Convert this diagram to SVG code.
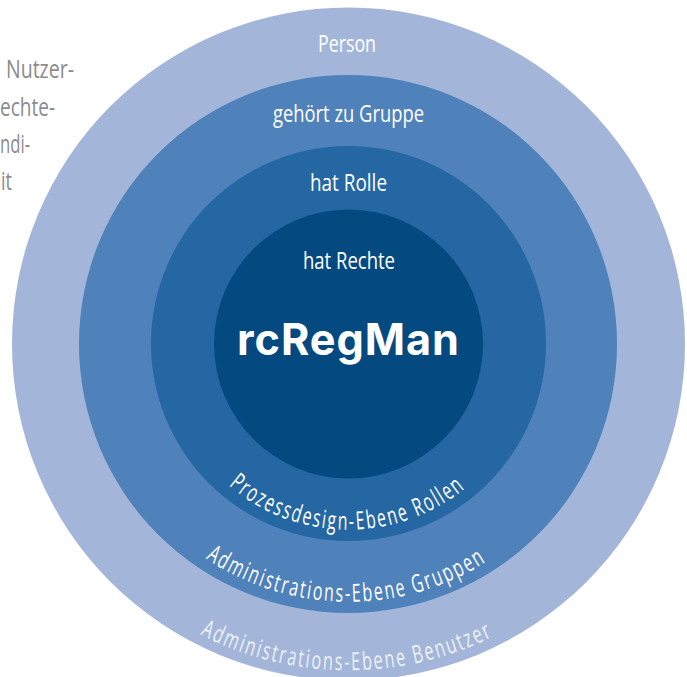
<svg xmlns="http://www.w3.org/2000/svg" width="687" height="677" viewBox="0 0 687 677">
<style>
text{font-family:"Open Sans","Noto Sans",sans-serif;font-size:24px;fill:#fff}
.c{text-anchor:middle}
.l{letter-spacing:3px;font-size:25px}
.g{fill:#8c8c8c;text-anchor:end;font-size:25px}
.k{font-family:Inter,"DejaVu Sans",sans-serif;font-weight:700;font-size:44px;text-anchor:middle;letter-spacing:1px}
</style>
<defs>
<path id="a1" d="M228.500 485.500A185 185 0 0 0 468.500 485.500"/>
<path id="a2" d="M205.500 558.500A258 258 0 0 0 491.500 558.500"/>
<path id="a3" d="M200 634.500A326 326 0 0 0 497 634.500"/>
</defs>
<g id="note"><text class="g" x="74" y="78" textLength="68" lengthAdjust="spacingAndGlyphs">Nutzer-</text><text class="g" x="55" y="116" textLength="55" lengthAdjust="spacingAndGlyphs">echte-</text><text class="g" x="30" y="153" textLength="30" lengthAdjust="spacingAndGlyphs">ndi-</text><text class="g" x="12" y="190" textLength="11" lengthAdjust="spacingAndGlyphs">it</text></g>
<g id="ring-person"><circle cx="348.500" cy="344" r="336.500" fill="#a3b6d9"/><text class="c" x="347" y="52" textLength="58" lengthAdjust="spacingAndGlyphs">Person</text><text class="l" style="fill:#edf1f9"><textPath href="#a3" textLength="305" lengthAdjust="spacingAndGlyphs">Administrations-Ebene Benutzer</textPath></text></g>
<g id="ring-gruppe"><circle cx="348" cy="344" r="269" fill="#4f81ba"/><text class="c" x="348.500" y="122" textLength="151" lengthAdjust="spacingAndGlyphs">gehört zu Gruppe</text><text class="l"><textPath href="#a2" textLength="298" lengthAdjust="spacingAndGlyphs">Administrations-Ebene Gruppen</textPath></text></g>
<g id="ring-rolle"><circle cx="348.500" cy="343.500" r="197.500" fill="#2467a3"/><text class="c" x="348.500" y="191" textLength="77" lengthAdjust="spacingAndGlyphs">hat Rolle</text><text class="l"><textPath href="#a1" textLength="258" lengthAdjust="spacingAndGlyphs">Prozessdesign-Ebene Rollen</textPath></text></g>
<g id="core"><circle cx="348.500" cy="344" r="134.500" fill="#044a80"/><text class="c" x="349" y="269" textLength="92" lengthAdjust="spacingAndGlyphs">hat Rechte</text><text class="k" x="348.500" y="355" textLength="223" lengthAdjust="spacingAndGlyphs">rcRegMan</text></g>
<g id="connectors"></g>
</svg>
